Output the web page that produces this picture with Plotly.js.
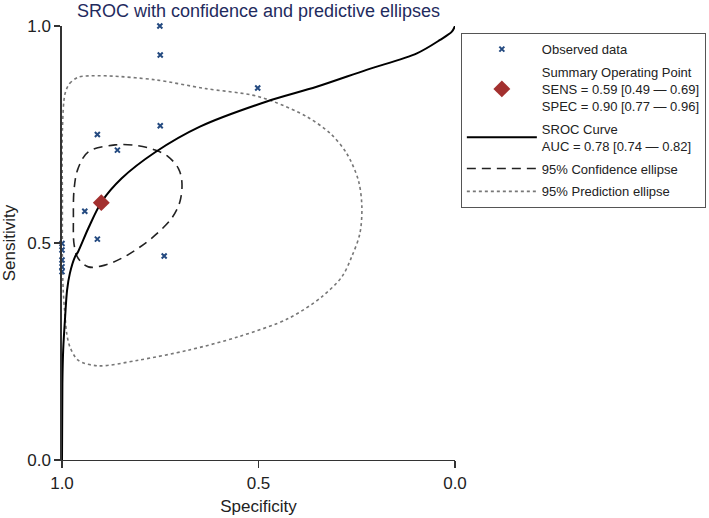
<!DOCTYPE html>
<html>
<head>
<meta charset="utf-8">
<script src="https://cdn.plot.ly/plotly-3.0.1.min.js"></script>
<style>
  html, body { margin: 0; padding: 0; background: #fff; }
  #chart { width: 709px; height: 518px; }
</style>
</head>
<body>
<div id="chart"></div>
<script>
// Observed studies (specificity, sensitivity)
const obsSpec = [0.751, 0.75, 0.502, 0.75, 0.91, 0.859, 0.942, 0.91, 0.74, 1.0, 1.0, 1.0, 1.0, 1.0];
const obsSens = [1.0, 0.933, 0.857, 0.77, 0.75, 0.714, 0.573, 0.509, 0.47, 0.499, 0.484, 0.461, 0.445, 0.434];

// Summary operating point
const sumSpec = [0.90];
const sumSens = [0.593];

// SROC curve
const srocSpec = [1.0, 0.999, 0.997, 0.992, 0.987, 0.98, 0.967, 0.959, 0.933, 0.899, 0.848, 0.763, 0.649, 0.479, 0.352, 0.225, 0.097, 0.038, 0.008, 0.0];
const srocSens = [0.0, 0.177, 0.253, 0.33, 0.392, 0.43, 0.468, 0.48, 0.534, 0.595, 0.649, 0.709, 0.768, 0.826, 0.86, 0.899, 0.937, 0.968, 0.987, 1.0];

// 95% confidence ellipse
const confSpec = [0.865, 0.806, 0.763, 0.73, 0.704, 0.695, 0.70, 0.721, 0.763, 0.806, 0.848, 0.891, 0.933, 0.959, 0.969, 0.971, 0.969, 0.959, 0.933, 0.865];
const confSens = [0.726, 0.724, 0.714, 0.699, 0.672, 0.641, 0.595, 0.557, 0.518, 0.488, 0.465, 0.449, 0.445, 0.465, 0.495, 0.557, 0.626, 0.672, 0.71, 0.726];

// 95% prediction ellipse
const predSpec = [0.992, 0.98, 0.959, 0.933, 0.882, 0.763, 0.636, 0.517, 0.462, 0.377, 0.318, 0.276, 0.246, 0.237, 0.242, 0.263, 0.288, 0.339, 0.424, 0.551, 0.679, 0.806, 0.908, 0.959, 0.98, 0.988, 0.992, 0.997, 0.999, 0.999, 0.999, 0.992];
const predSens = [0.845, 0.868, 0.882, 0.885, 0.885, 0.876, 0.856, 0.841, 0.826, 0.791, 0.753, 0.707, 0.645, 0.584, 0.522, 0.468, 0.422, 0.376, 0.326, 0.284, 0.253, 0.23, 0.217, 0.23, 0.261, 0.292, 0.33, 0.392, 0.468, 0.599, 0.76, 0.845];

const legendNames = [
  'Observed data',
  'Summary Operating Point<br>SENS = 0.59 [0.49 \u2014 0.69]<br>SPEC = 0.90 [0.77 \u2014 0.96]',
  'SROC Curve<br>AUC = 0.78 [0.74 \u2014 0.82]',
  '95% Confidence ellipse',
  '95% Prediction ellipse'
];

const traces = [
  {
    x: predSpec, y: predSens, type: 'scatter', mode: 'lines', name: legendNames[4],
    line: { color: '#777', width: 1.6, dash: 'dot', shape: 'spline', smoothing: 0.9 },
    cliponaxis: false, legendrank: 5, legendgroup: 'e', hoverinfo: 'skip'
  },
  {
    x: confSpec, y: confSens, type: 'scatter', mode: 'lines', name: legendNames[3],
    line: { color: '#222', width: 1.6, dash: '9px,6px', shape: 'spline', smoothing: 1 },
    cliponaxis: false, legendrank: 4, legendgroup: 'd'
  },
  {
    x: srocSpec, y: srocSens, type: 'scatter', mode: 'lines', name: legendNames[2],
    line: { color: '#000', width: 2, shape: 'spline', smoothing: 0.9 },
    cliponaxis: false, legendrank: 3, legendgroup: 'c'
  },
  {
    x: obsSpec, y: obsSens, type: 'scatter', mode: 'markers', name: legendNames[0],
    marker: { symbol: 'x-thin-open', size: 5, color: '#244a80', line: { width: 2, color: '#244a80' } },
    cliponaxis: false, legendrank: 1, legendgroup: 'a'
  },
  {
    x: sumSpec, y: sumSens, type: 'scatter', mode: 'markers', name: legendNames[1],
    marker: { symbol: 'diamond', size: 13, color: '#a3302f' },
    cliponaxis: false, legendrank: 2, legendgroup: 'b'
  }
];

const layout = {
  width: 709,
  height: 518,
  margin: { l: 62, r: 254, t: 26, b: 58 },
  paper_bgcolor: '#fff',
  plot_bgcolor: '#fff',
  font: { family: 'Arial, Liberation Sans, sans-serif', color: '#222', size: 17 },
  title: {
    text: 'SROC with confidence and predictive ellipses',
    font: { size: 18, color: '#1f2b5e' },
    x: 0.5, xref: 'paper', xanchor: 'center',
    y: 0.979, yref: 'container', yanchor: 'middle'
  },
  xaxis: {
    range: [1, 0],
    tickvals: [1, 0.5, 0],
    ticktext: ['1.0', '0.5', '0.0'],
    ticks: 'outside', ticklen: 7, tickwidth: 1.2, tickcolor: '#333',
    showline: true, linecolor: '#333', linewidth: 1.2,
    showgrid: false, zeroline: false,
    title: { text: 'Specificity', font: { size: 17 }, standoff: 8 }
  },
  yaxis: {
    range: [0, 1],
    tickvals: [0, 0.5, 1],
    ticktext: ['0.0', '0.5', '1.0'],
    ticks: 'outside', ticklen: 6, tickwidth: 1.2, tickcolor: '#333',
    showline: true, linecolor: '#333', linewidth: 1.6,
    showgrid: false, zeroline: false,
    title: { text: 'Sensitivity', font: { size: 17 }, standoff: 8 }
  },
  showlegend: true,
  legend: {
    xref: 'container', yref: 'container',
    x: 0.650, y: 0.936, xanchor: 'left', yanchor: 'top',
    bgcolor: '#fff', bordercolor: '#555', borderwidth: 1,
    font: { size: 13, color: '#222' },
    itemwidth: 70,
    tracegroupgap: 3,
    traceorder: 'grouped'
  }
};

Plotly.newPlot('chart', traces, layout, { displayModeBar: false, staticPlot: true });
</script>
</body>
</html>
